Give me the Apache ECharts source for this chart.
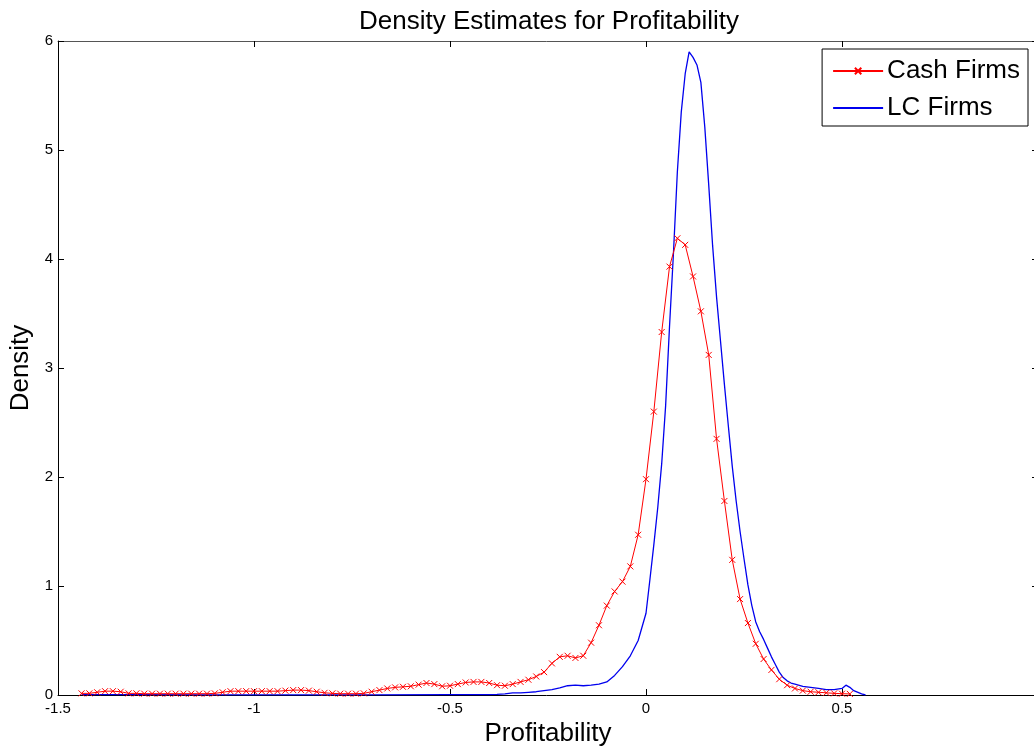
<!DOCTYPE html>
<html>
<head>
<meta charset="utf-8">
<script src="https://cdn.jsdelivr.net/npm/echarts@6/dist/echarts.min.js"></script>
<style>
html,body{margin:0;padding:0;background:#fff;}
#chart{width:1034px;height:752px;}
</style>
</head>
<body>
<div id="chart"></div>
<script>
// ---- Data ----
const cashX = [-1.44,-1.42,-1.40,-1.38,-1.36,-1.34,-1.32,-1.30,-1.28,-1.26,-1.24,-1.22,-1.20,-1.18,-1.16,-1.14,-1.12,-1.10,-1.08,-1.06,-1.04,-1.02,-1.00,-0.98,-0.96,-0.94,-0.92,-0.90,-0.88,-0.86,-0.84,-0.82,-0.80,-0.78,-0.76,-0.74,-0.72,-0.70,-0.68,-0.66,-0.64,-0.62,-0.60,-0.58,-0.56,-0.54,-0.52,-0.50,-0.48,-0.46,-0.44,-0.42,-0.40,-0.38,-0.36,-0.34,-0.32,-0.30,-0.28,-0.26,-0.24,-0.22,-0.20,-0.18,-0.16,-0.14,-0.12,-0.10,-0.08,-0.06,-0.04,-0.02,0.00,0.02,0.04,0.06,0.08,0.10,0.12,0.14,0.16,0.18,0.20,0.22,0.24,0.26,0.28,0.30,0.32,0.34,0.36,0.38,0.40,0.42,0.44,0.46,0.48,0.50,0.52];
const cashY = [0.015,0.015,0.025,0.035,0.035,0.03,0.015,0.015,0.012,0.012,0.012,0.012,0.012,0.012,0.012,0.012,0.012,0.015,0.025,0.035,0.035,0.035,0.035,0.035,0.035,0.035,0.04,0.045,0.045,0.04,0.03,0.02,0.015,0.012,0.012,0.012,0.015,0.03,0.045,0.06,0.07,0.075,0.08,0.095,0.11,0.10,0.08,0.085,0.10,0.115,0.12,0.12,0.11,0.09,0.085,0.10,0.12,0.14,0.17,0.21,0.29,0.35,0.36,0.34,0.36,0.48,0.64,0.82,0.95,1.04,1.18,1.47,1.98,2.60,3.33,3.93,4.19,4.13,3.84,3.52,3.12,2.35,1.78,1.24,0.88,0.66,0.47,0.33,0.23,0.145,0.09,0.06,0.04,0.03,0.025,0.02,0.015,0.012,0.01];

const lcX = [-1.44,-1.30,-1.10,-0.90,-0.70,-0.50,-0.40,-0.38,-0.36,-0.34,-0.32,-0.30,-0.28,-0.26,-0.24,-0.22,-0.20,-0.18,-0.16,-0.14,-0.12,-0.10,-0.08,-0.06,-0.04,-0.02,0.00,0.01,0.02,0.03,0.04,0.05,0.06,0.07,0.08,0.09,0.10,0.11,0.12,0.13,0.14,0.15,0.16,0.17,0.18,0.19,0.20,0.21,0.22,0.23,0.24,0.25,0.26,0.27,0.28,0.29,0.30,0.31,0.32,0.33,0.34,0.35,0.36,0.37,0.38,0.40,0.42,0.44,0.46,0.48,0.50,0.51,0.52,0.53,0.55,0.56];
const lcY = [0.003,0.003,0.002,0.002,0.002,0.003,0.004,0.006,0.01,0.02,0.02,0.025,0.03,0.04,0.05,0.065,0.085,0.09,0.085,0.09,0.10,0.12,0.18,0.26,0.36,0.50,0.75,1.06,1.38,1.72,2.12,2.65,3.38,4.05,4.80,5.35,5.70,5.90,5.85,5.78,5.62,5.21,4.68,4.12,3.65,3.25,2.85,2.47,2.10,1.78,1.50,1.25,1.01,0.82,0.67,0.58,0.51,0.43,0.35,0.28,0.21,0.16,0.13,0.11,0.10,0.08,0.07,0.06,0.05,0.05,0.06,0.09,0.07,0.04,0.01,0.0];

const xTicks = [-1.5, -1, -0.5, 0, 0.5, 1];
const yTicks = [0, 1, 2, 3, 4, 5, 6];

const seriesNames = ['Cash Firms', 'LC Firms'];
const titleText = 'Density Estimates for Profitability';
const xName = 'Profitability';
const yName = 'Density';

// ---- Chart ----
const FONT = 'Liberation Sans, Arial, Helvetica, sans-serif';
const chart = echarts.init(document.getElementById('chart'), null, {renderer: 'canvas'});

const zip = (xs, ys) => xs.map((x, i) => [x, ys[i]]);
const xSymbol = 'path://M0,0L10,10M10,0L0,10';

const option = {
  backgroundColor: '#ffffff',
  animation: false,
  textStyle: {fontFamily: FONT},
  title: {
    text: titleText,
    left: 544,
    textAlign: 'center',
    top: 4,
    textStyle: {fontFamily: FONT, fontSize: 26, fontWeight: 'normal', color: '#000'}
  },
  legend: {
    orient: 'vertical',
    right: 6,
    top: 49,
    data: [
      {name: seriesNames[0]},
      {name: seriesNames[1], itemStyle: {opacity: 0}}
    ],
    backgroundColor: '#ffffff',
    borderColor: '#000',
    borderWidth: 1,
    borderRadius: 0,
    padding: [9, 8, 5, 10],
    itemWidth: 50,
    itemHeight: 8,
    itemGap: 11,
    textStyle: {fontFamily: FONT, fontSize: 26, color: '#000', padding: [0, 0, 0, -1]}
  },
  grid: {left: 58, top: 41, bottom: 57, right: -4, outerBoundsMode: 'none', containLabel: false},
  xAxis: [{
    type: 'value',
    min: xTicks[0],
    max: xTicks[xTicks.length - 1],
    interval: 0.5,
    position: 'bottom',
    name: xName,
    nameLocation: 'middle',
    nameGap: 25,
    nameTextStyle: {fontFamily: FONT, fontSize: 26, color: '#000'},
    axisLine: {onZero: false, lineStyle: {color: '#000', width: 1}},
    axisTick: {inside: true, length: 6, lineStyle: {color: '#000'}},
    axisLabel: {fontFamily: FONT, fontSize: 15, color: '#000', margin: 6,
      formatter: v => String(v)},
    splitLine: {show: false}
  }, {
    type: 'value',
    min: xTicks[0],
    max: xTicks[xTicks.length - 1],
    interval: 0.5,
    position: 'top',
    axisLine: {onZero: false, lineStyle: {color: '#555', width: 1}},
    axisTick: {inside: true, length: 6, lineStyle: {color: '#000'}},
    axisLabel: {show: false},
    splitLine: {show: false}
  }],
  yAxis: [{
    type: 'value',
    min: yTicks[0],
    max: yTicks[yTicks.length - 1],
    interval: 1,
    position: 'left',
    name: yName,
    nameLocation: 'middle',
    nameGap: 18,
    nameRotate: 90,
    nameTextStyle: {fontFamily: FONT, fontSize: 26, color: '#000'},
    axisLine: {show: true, onZero: false, lineStyle: {color: '#000', width: 1}},
    axisTick: {show: true, inside: true, length: 6, lineStyle: {color: '#000'}},
    axisLabel: {fontFamily: FONT, fontSize: 15, color: '#000', margin: 5},
    splitLine: {show: false}
  }, {
    type: 'value',
    min: yTicks[0],
    max: yTicks[yTicks.length - 1],
    interval: 1,
    position: 'right',
    axisLine: {show: true, onZero: false, lineStyle: {color: '#555', width: 1}},
    axisTick: {show: true, inside: true, length: 6, lineStyle: {color: '#000'}},
    axisLabel: {show: false},
    splitLine: {show: false}
  }],
  series: [{
    name: seriesNames[0],
    type: 'line',
    data: zip(cashX, cashY),
    symbol: xSymbol,
    symbolSize: 6,
    showAllSymbol: true,
    smooth: false,
    lineStyle: {color: '#ff0000', width: 1},
    itemStyle: {color: 'rgba(0,0,0,0)', borderColor: '#ff0000', borderWidth: 1},
    z: 3
  }, {
    name: seriesNames[1],
    type: 'line',
    data: zip(lcX, lcY),
    symbol: 'none',
    smooth: false,
    lineStyle: {color: '#0000ee', width: 1.3},
    itemStyle: {color: '#0000ee'},
    z: 2
  }]
};
chart.setOption(option);
</script>
</body>
</html>
